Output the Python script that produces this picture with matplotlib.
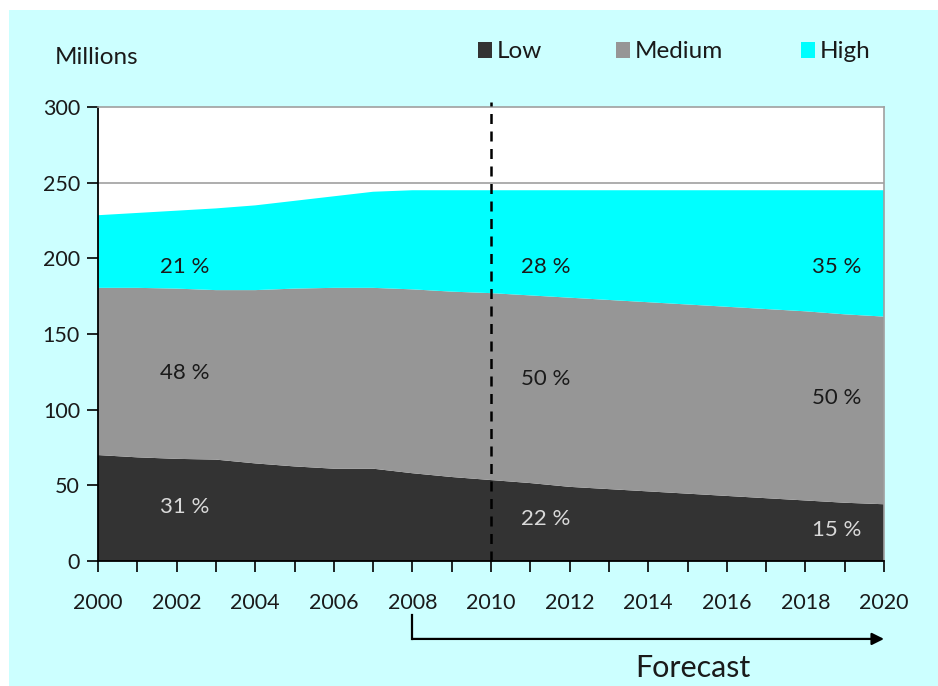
import matplotlib
matplotlib.use("Agg")
import matplotlib.pyplot as plt
from matplotlib.patches import Rectangle

plt.rcParams['font.family'] = ['Lato', 'DejaVu Sans']

years = list(range(2000, 2021))
low = [70, 68.5, 67.5, 67, 64.5, 62.5, 61, 61, 58, 55.5, 53.5,
       51.5, 49, 47.5, 46, 44.5, 43, 41.5, 40, 38.5, 37.5]
medium = [110.5, 112, 112.5, 112, 114.5, 117.5, 119.5, 119.5, 121.5, 122.5, 123.5,
          124, 125, 125, 125, 125, 125, 125, 125, 124.5, 124]
high = [48, 49.5, 51.5, 54, 56, 58, 60.5, 63.5, 65.5, 67, 68,
        69.5, 71, 72.5, 74, 75.5, 77, 78.5, 80, 82, 83.5]
series_names = ["Low", "Medium", "High"]
colors = ["#333333", "#969696", "#00ffff"]

# percentage labels: (year, value, text, colour)
pct_years = [2002.2, 2002.2, 2002.2, 2011.4, 2011.4, 2011.4, 2018.8, 2018.8, 2018.8]
pct_vals = [36, 124, 194, 28, 120, 194, 20.5, 108, 194]
pct_text = ["31 %", "48 %", "21 %", "22 %", "50 %", "28 %", "15 %", "50 %", "35 %"]
pct_dark = [False, True, True, False, True, True, False, True, True]

yticks = [0, 50, 100, 150, 200, 250, 300]
xticks_major = list(range(2000, 2021, 2))
forecast_start = 2008
divider_year = 2010

fig = plt.figure(figsize=(9.38, 6.86), dpi=100)
fig.patch.set_facecolor("white")
fig.patches.append(Rectangle((9/938, 0), 1, 1 - 10/686, transform=fig.transFigure,
                             facecolor="#ccffff", edgecolor="none", zorder=-10))

ax = fig.add_axes([98/938, 1 - 561/686, (884 - 98)/938, (561 - 107)/686])
ax.set_facecolor("white")
ax.stackplot(years, low, medium, high, colors=colors, labels=series_names,
             linewidth=0, zorder=2)
ax.axhline(250, color="#a0a0a0", lw=1.2, zorder=1)

ax.set_xlim(2000, 2020)
ax.set_ylim(0, 300)
ax.set_yticks(yticks)
ax.set_yticklabels([str(v) for v in yticks], fontsize=15.5, color="#1a1a1a")
ax.set_xticks(xticks_major)
ax.set_xticks(years, minor=True)
ax.set_xticklabels([str(v) for v in xticks_major], fontsize=15.5, color="#1a1a1a")
ax.tick_params(axis="x", which="both", direction="out", length=8, width=1.2,
               color="black", pad=15)
ax.tick_params(axis="y", direction="out", length=8, width=1.2, color="black", pad=5)

for s in ["left", "bottom"]:
    ax.spines[s].set_color("black")
    ax.spines[s].set_linewidth(1.3)
for s in ["top", "right"]:
    ax.spines[s].set_color("#a0a0a0")
    ax.spines[s].set_linewidth(1.2)

# dashed divider
ax.plot([divider_year, divider_year], [0, 303], color="black", lw=1.8,
        linestyle=(0, (4, 3)), clip_on=False, zorder=5)

for xv, yv, t, dark in zip(pct_years, pct_vals, pct_text, pct_dark):
    ax.text(xv, yv, t, fontsize=16, ha="center", va="center",
            color="#1a1a1a" if dark else "#d9d9d9", zorder=6)

# legend
fig.text(55/938, 1 - 57/686, "Millions", fontsize=17.5, ha="left", va="center",
         color="#1a1a1a")
leg_x = [478, 616, 801]
for x0, name, c in zip(leg_x, series_names, colors):
    fig.patches.append(Rectangle((x0/938, 1 - 58/686), 14/938, 16/686,
                                 transform=fig.transFigure, facecolor=c, edgecolor="none"))
    fig.text((x0 + 19)/938, 1 - 51/686, name, fontsize=17.5, ha="left", va="center",
             color="#1a1a1a")

# forecast arrow
ax.annotate("", xy=(2020, -51.5), xytext=(forecast_start, -51.5),
            xycoords="data", textcoords="data", annotation_clip=False,
            arrowprops=dict(arrowstyle="-|>", color="black", lw=1.6,
                            mutation_scale=18, shrinkA=0, shrinkB=0))
ax.plot([forecast_start, forecast_start], [-36, -51.5], color="black", lw=1.6,
        clip_on=False)
fig.text(693/938, 1 - 668/686, "Forecast", fontsize=22, ha="center", va="center",
         color="#1a1a1a")

fig.savefig("out.png", dpi=100)
